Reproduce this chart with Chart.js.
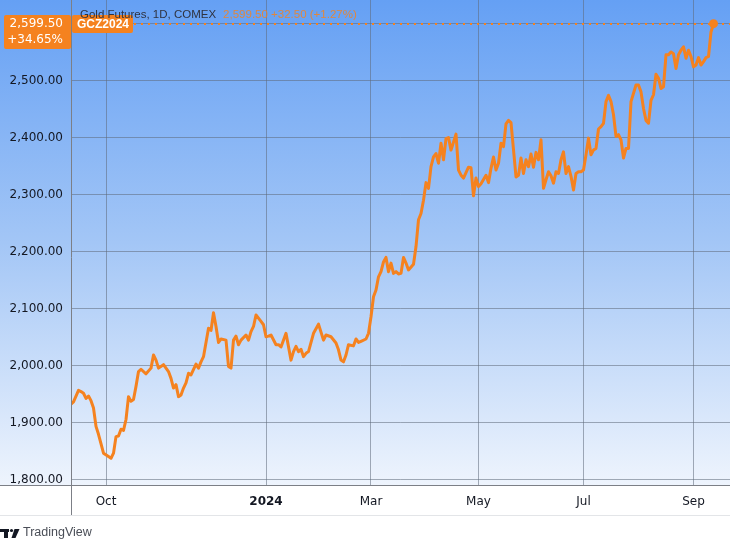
<!DOCTYPE html>
<html>
<head>
<meta charset="utf-8">
<script src="https://cdn.jsdelivr.net/npm/chart.js@4.4.1/dist/chart.umd.min.js"></script>
<style>
  html, body { margin: 0; padding: 0; background: #ffffff; }
  #wrap { width: 730px; height: 546px; }
</style>
</head>
<body>
<div id="wrap"><canvas id="c" width="730" height="546"></canvas></div>
<script>
// ---- DATA ----
// trading-day index since the first bar (mid Sep 2023) and close price
const tradingDay = [0,1,3,4,5,6,7,8,9,10,11,13,15,16,17,18,19,20,21,22,23,24,25,26,27,28,30,32,33,34,35,37,39,40,41,42,43,44,45,46,47,48,50,51,52,53,55,56,57,58,59,60,62,63,64,65,66,67,68,70,71,72,73,74,76,77,78,79,80,82,83,84,86,88,89,90,91,92,93,94,95,97,99,101,102,104,106,107,108,109,110,111,113,114,115,116,118,119,120,121,122,123,124,125,126,127,128,129,130,131,132,133,134,135,137,138,139,140,141,142,143,144,145,146,147,148,149,150,151,152,154,155,156,157,159,160,161,162,163,164,166,167,168,169,170,171,172,173,174,175,176,178,179,180,181,182,183,184,185,186,187,188,189,190,191,192,193,194,195,196,197,198,199,200,201,202,203,204,205,206,207,208,209,210,211,212,213,214,215,216,217,218,219,220,221,222,223,224,226,227,228,229,230,231,232,233,234,235,236,237,238,239,240,241,242,243,244,245,246,247,248,249,250,251,252,253,254,255,256,257];
const closePrice = [1933,1937,1957,1955,1952,1943,1947,1939,1926,1894,1880,1847,1841,1838,1847,1876,1877,1889,1887,1906,1946,1938,1941,1964,1990,1994,1986,1996,2019,2010,1996,2002,1990,1978,1961,1967,1946,1949,1961,1970,1987,1984,2003,1996,2007,2016,2066,2062,2093,2069,2041,2047,2045,1999,1996,2045,2052,2037,2045,2054,2045,2060,2069,2089,2078,2072,2051,2052,2054,2037,2037,2033,2057,2010,2025,2034,2025,2029,2016,2022,2025,2057,2073,2045,2054,2051,2040,2028,2010,2007,2019,2037,2035,2047,2041,2043,2047,2057,2086,2121,2133,2156,2165,2182,2190,2165,2180,2162,2165,2161,2162,2190,2180,2168,2178,2209,2256,2267,2290,2321,2311,2349,2366,2372,2355,2390,2361,2398,2400,2378,2406,2343,2334,2329,2348,2347,2298,2329,2314,2319,2334,2321,2346,2366,2343,2355,2390,2384,2424,2430,2426,2331,2334,2364,2337,2361,2349,2371,2348,2374,2361,2396,2311,2326,2340,2333,2320,2340,2337,2361,2375,2337,2349,2332,2308,2337,2340,2340,2343,2370,2399,2370,2378,2381,2415,2419,2425,2463,2474,2463,2440,2402,2405,2396,2364,2381,2381,2463,2492,2492,2480,2451,2430,2425,2465,2475,2511,2504,2486,2489,2545,2545,2550,2547,2521,2545,2553,2559,2539,2553,2542,2524,2527,2540,2527,2533,2540,2542,2585,2599.5];

const xTickDay   = [14, 78, 120, 163, 205, 249];
const xTickLabel = ['Oct', '2024', 'Mar', 'May', 'Jul', 'Sep'];
const yTickValues = [1800, 1900, 2000, 2100, 2200, 2300, 2400, 2500, 2600];

const symbolTitle = 'Gold Futures, 1D, COMEX';
const symbolQuote = '2,599.50 +32.50 (+1.27%)';
const lastPriceText = '2,599.50';
const changeText = '+34.65%';
const tickerText = 'GCZ2024';

// ---- styling ----
const ORANGE = '#f5821f';
const FONT = 'DejaVu Sans';
const W = 730, PLOT_BOTTOM = 485, AXIS_BOTTOM = 515;

const points = tradingDay.map((d, i) => ({ x: d, y: closePrice[i] }));
const lastIdx = points.length - 1;
const lastPrice = closePrice[lastIdx];

const fmt = v => v.toLocaleString('en-US', { minimumFractionDigits: 2, maximumFractionDigits: 2 });

const decor = {
  id: 'decor',
  beforeDraw(chart) {
    const ctx = chart.ctx;
    ctx.save();
    ctx.fillStyle = '#ffffff';
    ctx.fillRect(0, 0, W, 546);
    const g = ctx.createLinearGradient(0, 0, 0, PLOT_BOTTOM);
    g.addColorStop(0, '#65a0f4');
    g.addColorStop(0.5, '#a3c6f6');
    g.addColorStop(1, '#eef4fd');
    ctx.fillStyle = g;
    ctx.fillRect(0, 0, W, PLOT_BOTTOM);
    ctx.restore();
  },
  beforeDatasetsDraw(chart) {
    const ctx = chart.ctx;
    const y = Math.round(chart.scales.y.getPixelForValue(lastPrice));
    ctx.save();
    ctx.strokeStyle = ORANGE;
    ctx.lineWidth = 2;
    ctx.setLineDash([2, 5]);
    ctx.beginPath();
    ctx.moveTo(chart.chartArea.left, y);
    ctx.lineTo(W, y);
    ctx.stroke();
    ctx.restore();
  },
  afterDraw(chart) {
    const ctx = chart.ctx;
    const ca = chart.chartArea;
    ctx.save();
    // axis separators
    ctx.strokeStyle = '#7c7f86';
    ctx.lineWidth = 1;
    ctx.beginPath();
    ctx.moveTo(0, PLOT_BOTTOM + 0.5); ctx.lineTo(W, PLOT_BOTTOM + 0.5);
    ctx.moveTo(ca.left + 0.5, 0); ctx.lineTo(ca.left + 0.5, AXIS_BOTTOM);
    ctx.stroke();
    ctx.strokeStyle = '#e3e5e8';
    ctx.beginPath();
    ctx.moveTo(0, AXIS_BOTTOM + 0.5); ctx.lineTo(W, AXIS_BOTTOM + 0.5);
    ctx.stroke();

    // price label box
    ctx.fillStyle = ORANGE;
    ctx.beginPath();
    ctx.roundRect(4, 15, 67, 34, 2);
    ctx.fill();
    ctx.fillStyle = '#ffffff';
    ctx.font = '12px ' + FONT;
    ctx.textAlign = 'right';
    ctx.textBaseline = 'middle';
    ctx.fillText(lastPriceText, 63, 24);
    ctx.fillText(changeText, 63, 40);

    // ticker box
    ctx.fillStyle = ORANGE;
    ctx.beginPath();
    ctx.roundRect(72, 15, 61, 18, 2);
    ctx.fill();
    ctx.fillStyle = '#ffffff';
    ctx.font = 'bold 12px "Liberation Sans"';
    ctx.textAlign = 'left';
    ctx.fillText(tickerText, 77, 24.5);

    // header
    ctx.font = '11.5px "Liberation Sans"';
    ctx.fillStyle = '#2f3340';
    ctx.textBaseline = 'middle';
    ctx.fillText(symbolTitle, 80, 15);
    const tw = ctx.measureText(symbolTitle).width;
    ctx.fillStyle = 'rgba(245,130,31,0.85)';
    ctx.fillText(symbolQuote, 80 + tw + 7, 15);

    // TradingView logo
    ctx.fillStyle = '#131722';
    ctx.fillRect(0, 529, 9, 3);
    ctx.fillRect(4, 529, 4, 9);
    ctx.beginPath();
    ctx.arc(11.5, 530.5, 1.6, 0, Math.PI * 2);
    ctx.fill();
    ctx.beginPath();
    ctx.moveTo(14.5, 529); ctx.lineTo(19.5, 529); ctx.lineTo(15.5, 538); ctx.lineTo(11.5, 538);
    ctx.closePath();
    ctx.fill();
    ctx.fillStyle = '#4a4e57';
    ctx.font = '12.5px "Liberation Sans"';
    ctx.textAlign = 'left';
    ctx.fillText('TradingView', 23, 533);
    ctx.restore();
  }
};

const noPad = s => { s.paddingTop = 0; s.paddingBottom = 0; s.paddingLeft = 0; s.paddingRight = 0; };

new Chart(document.getElementById('c'), {
  type: 'line',
  data: {
    datasets: [{
      data: points,
      borderColor: ORANGE,
      borderWidth: 3,
      tension: 0,
      borderJoinStyle: 'round',
      borderCapStyle: 'round',
      pointRadius: ctx => ctx.dataIndex === lastIdx ? 4.5 : 0,
      pointBackgroundColor: ORANGE,
      pointBorderWidth: 0,
      pointHoverRadius: 0
    }]
  },
  options: {
    responsive: false,
    devicePixelRatio: 1,
    animation: false,
    events: [],
    layout: { autoPadding: false, padding: { left: 0, right: 0, top: 0, bottom: 546 - AXIS_BOTTOM } },
    plugins: { legend: { display: false }, tooltip: { enabled: false } },
    scales: {
      x: {
        type: 'linear',
        min: 0,
        max: 263.6,
        afterBuildTicks: s => { s.ticks = xTickDay.map(v => ({ value: v })); },
        afterFit: s => { s.height = AXIS_BOTTOM - PLOT_BOTTOM; noPad(s); },
        grid: { color: 'rgba(95,105,122,0.55)', lineWidth: 1, drawTicks: false },
        border: { display: false },
        ticks: {
          autoSkip: false,
          maxRotation: 0,
          padding: 10,
          color: '#131722',
          font: ctx => ({ family: FONT, size: 12, weight: (ctx.tick && ctx.tick.label === '2024') ? 'bold' : 'normal' }),
          callback: v => { const i = xTickDay.indexOf(v); return i >= 0 ? xTickLabel[i] : ''; }
        }
      },
      y: {
        type: 'linear',
        position: 'left',
        min: 1791.2,
        max: 2641,
        afterBuildTicks: s => { s.ticks = yTickValues.map(v => ({ value: v })); },
        afterFit: s => { s.width = 71; noPad(s); },
        grid: { color: 'rgba(95,105,122,0.55)', lineWidth: 1, drawTicks: false },
        border: { display: false },
        ticks: {
          autoSkip: false,
          padding: 8,
          color: '#131722',
          font: { family: FONT, size: 12 },
          callback: v => v >= 2600 ? '' : fmt(v)
        }
      }
    }
  },
  plugins: [decor]
});
</script>
</body>
</html>
